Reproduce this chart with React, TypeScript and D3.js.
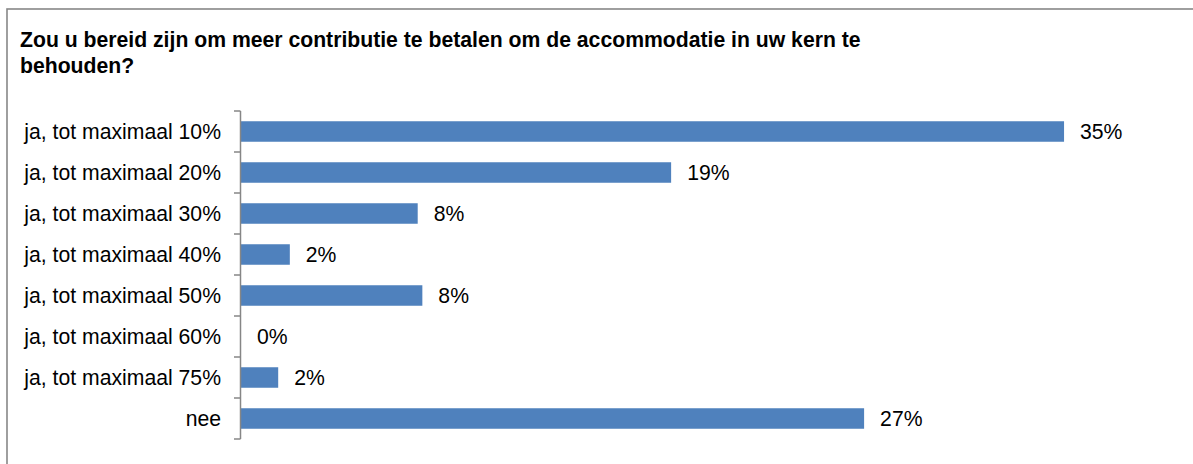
import React from "react";
import * as d3 from "d3";

const title = [
  "Zou u bereid zijn om meer contributie te betalen om de accommodatie in uw kern te",
  "behouden?",
];
const categories = [
  "ja, tot maximaal 10%",
  "ja, tot maximaal 20%",
  "ja, tot maximaal 30%",
  "ja, tot maximaal 40%",
  "ja, tot maximaal 50%",
  "ja, tot maximaal 60%",
  "ja, tot maximaal 75%",
  "nee",
];
const values = [35.4, 18.5, 7.6, 2.1, 7.8, 0, 1.6, 26.8];

const W = 1193;
const H = 464;
const FONT = "'Liberation Sans', Arial, Helvetica, sans-serif";

export default function App() {
  const x = d3.scaleLinear().domain([0, 40]).range([241, 1171]);
  const y = d3
    .scaleBand<string>()
    .domain(categories)
    .range([111, 439])
    .paddingInner(0.5)
    .paddingOuter(0.25);
  const step = y.step();
  const tickYs = d3.range(categories.length + 1).map((i) => 111 + i * step);
  const axisColor = "#868686";

  return (
    <svg
      width={W}
      height={H}
      style={{ position: "absolute", left: 0, top: 0 }}
      fontFamily={FONT}
    >
      <rect x={0} y={0} width={W} height={H} fill="#fff" />
      <rect
        x={7}
        y={9}
        width={W + 20}
        height={H + 20}
        fill="none"
        stroke="#878787"
        strokeWidth={1.6}
      />
      {title.map((t, i) => (
        <text
          key={i}
          x={20}
          y={47 + i * 25.5}
          fontSize={21.2}
          fontWeight="bold"
          fill="#000"
        >
          {t}
        </text>
      ))}
      {categories.map((c, i) => {
        const yy = (y(c) as number) + y.bandwidth() / 2;
        return (
          <g key={c}>
            <rect
              x={x(0)}
              y={y(c)}
              width={x(values[i]) - x(0)}
              height={y.bandwidth()}
              fill="#4F81BD"
            />
            <text
              x={221}
              y={yy}
              dy="0.36em"
              textAnchor="end"
              fontSize={21.2}
              fill="#000"
            >
              {c}
            </text>
            <text
              x={x(values[i]) + 16}
              y={yy}
              dy="0.36em"
              fontSize={21.2}
              fill="#000"
            >
              {`${Math.round(values[i])}%`}
            </text>
          </g>
        );
      })}
      <line
        x1={240.5}
        x2={240.5}
        y1={111}
        y2={439}
        stroke={axisColor}
        strokeWidth={1.5}
      />
      {tickYs.map((ty, i) => (
        <line
          key={i}
          x1={234}
          x2={240.5}
          y1={ty}
          y2={ty}
          stroke={axisColor}
          strokeWidth={1.5}
        />
      ))}
    </svg>
  );
}
